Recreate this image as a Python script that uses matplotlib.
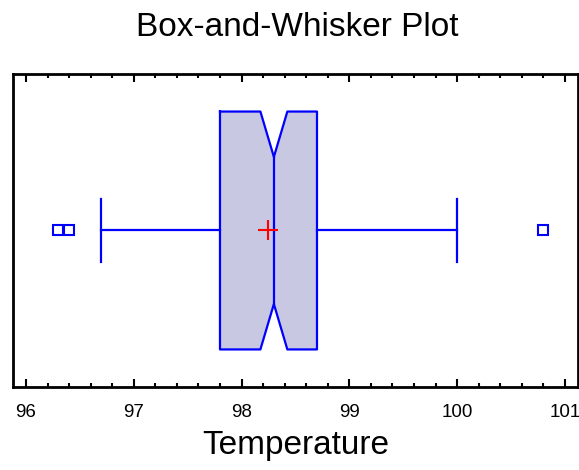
import matplotlib.pyplot as plt
from matplotlib.ticker import MultipleLocator

# summary statistics
q1 = 97.8
median = 98.3
q3 = 98.7
notch_lo = 98.175
notch_hi = 98.425
whisker_lo = 96.7
whisker_hi = 100.0
mean = 98.25
outliers = [96.3, 96.4, 100.8]

plt.rcParams['font.family'] = ['Liberation Sans', 'DejaVu Sans']

fig = plt.figure(figsize=(5.79, 4.70), dpi=100)
ax = fig.add_axes([0.0225, 0.1766, 0.9755, 0.666])

blue = '#0000ff'
h = 0.76      # box half height
nv = 0.47     # notch vertex half height
cap = 0.20    # whisker cap half height

# notched box outline
xs = [q1, notch_lo, median, notch_hi, q3, q3, notch_hi, median, notch_lo, q1, q1]
ys = [h, h, nv, h, h, -h, -h, -nv, -h, -h, h]
ax.fill(xs, ys, facecolor='#c8c8e3', edgecolor='none', zorder=1)
ax.plot(xs, ys, color=blue, lw=1.6, zorder=2)
ax.plot([median, median], [nv, -nv], color=blue, lw=1.6, zorder=2)

# whiskers
ax.plot([whisker_lo, q1], [0, 0], color=blue, lw=1.6)
ax.plot([q3, whisker_hi], [0, 0], color=blue, lw=1.6)
ax.plot([whisker_lo, whisker_lo], [-cap, cap], color=blue, lw=1.6)
ax.plot([whisker_hi, whisker_hi], [-cap, cap], color=blue, lw=1.6)

# outliers and mean
ax.plot(outliers, [0] * len(outliers), ls='none', marker='s', ms=7,
        mfc='white', mec=blue, mew=1.5, zorder=3)
ax.plot([mean], [0], ls='none', marker='+', ms=14, mew=1.5, color='red', zorder=4)

ax.set_xlim(95.88, 101.12)
ax.set_ylim(-1, 1)
ax.xaxis.set_major_locator(MultipleLocator(1))
ax.xaxis.set_minor_locator(MultipleLocator(0.2))
ax.tick_params(axis='x', which='both', direction='in', top=True, bottom=True,
               width=1.5, labelsize=13.5, pad=12)
ax.tick_params(axis='x', which='major', length=6)
ax.tick_params(axis='x', which='minor', length=3)
ax.set_yticks([])
for s in ax.spines.values():
    s.set_linewidth(2)

ax.set_xlabel('Temperature', fontsize=24, labelpad=7)
fig.text(0.513, 1 - 36 / 470, 'Box-and-Whisker Plot', fontsize=24,
         ha='center', va='baseline')

fig.savefig('out.png', dpi=100)
